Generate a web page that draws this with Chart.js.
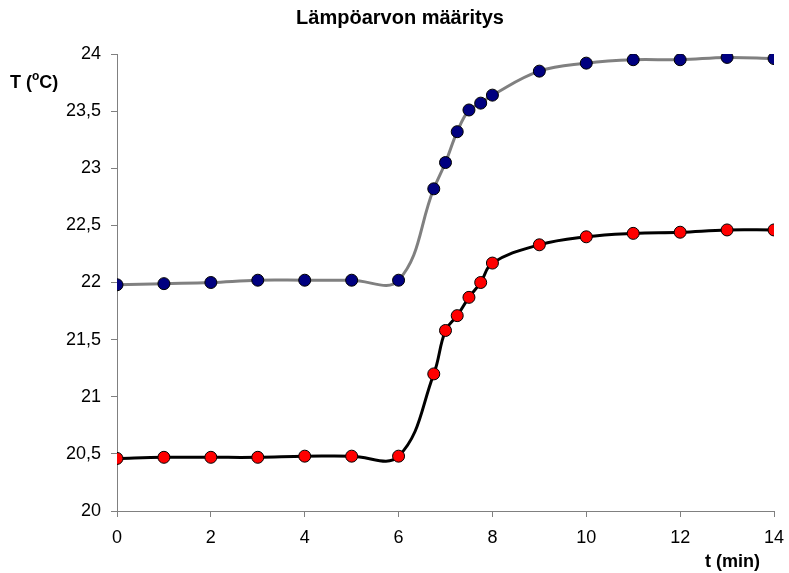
<!DOCTYPE html>
<html>
<head>
<meta charset="utf-8">
<script src="https://cdn.jsdelivr.net/npm/chart.js@4/dist/chart.umd.min.js"></script>
<style>
  html, body { margin: 0; padding: 0; background: #fff; }
  #wrap { width: 789px; height: 573px; }
</style>
</head>
<body>
<div id="wrap"><canvas id="chart" width="789" height="573"></canvas></div>
<script>
// aika (min)
var aika = [0, 1, 2, 3, 4, 5, 6, 6.75, 7, 7.25, 7.5, 7.75, 8, 9, 10, 11, 12, 13, 14];
// ylempi sarja (siniset pisteet)
var sarjaSininen = [21.98, 21.99, 22.00, 22.02, 22.02, 22.02, 22.02, 22.82, 23.05, 23.32, 23.51, 23.57, 23.64, 23.85, 23.92, 23.95, 23.95, 23.97, 23.96];
// alempi sarja (punaiset pisteet)
var sarjaPunainen = [20.46, 20.47, 20.47, 20.47, 20.48, 20.48, 20.48, 21.20, 21.58, 21.71, 21.87, 22.00, 22.17, 22.33, 22.40, 22.43, 22.44, 22.46, 22.46];
var yTikit = ['20', '20,5', '21', '21,5', '22', '22,5', '23', '23,5', '24'];
var xTikit = ['0', '2', '4', '6', '8', '10', '12', '14'];

function pisteet(arvot) {
  var out = [];
  for (var i = 0; i < aika.length; i++) {
    out.push({ x: aika[i], y: arvot[i] });
  }
  return out;
}

var fontti = "'Liberation Sans', Arial, sans-serif";

var tekstit = {
  id: 'tekstit',
  afterDraw: function (chart) {
    var ctx = chart.ctx;
    ctx.save();
    ctx.fillStyle = '#000';
    ctx.textBaseline = 'alphabetic';

    // otsikko
    ctx.font = 'bold 20px ' + fontti;
    ctx.textAlign = 'center';
    ctx.fillText('Lämpöarvon määritys', 400, 24);

    // y-akselin nimi  T (oC)
    ctx.textAlign = 'left';
    ctx.font = 'bold 18px ' + fontti;
    var x = 10, y = 88;
    ctx.fillText('T (', x, y);
    x += ctx.measureText('T (').width;
    ctx.font = 'bold 12px ' + fontti;
    ctx.fillText('o', x, y - 8);
    x += ctx.measureText('o').width;
    ctx.font = 'bold 18px ' + fontti;
    ctx.fillText('C)', x, y);

    // x-akselin nimi
    ctx.textAlign = 'right';
    ctx.fillText('t (min)', 760, 567);
    ctx.restore();
  }
};

var ctx = document.getElementById('chart').getContext('2d');
var chart = new Chart(ctx, {
  type: 'line',
  data: {
    datasets: [{
      data: pisteet(sarjaSininen),
      borderColor: '#808080',
      borderWidth: 3,
      backgroundColor: '#000080',
      pointBackgroundColor: '#000080',
      pointBorderColor: '#000',
      pointBorderWidth: 1,
      pointRadius: 6,
      tension: 0.4
    }, {
      data: pisteet(sarjaPunainen),
      borderColor: '#000',
      borderWidth: 3,
      backgroundColor: '#ff0000',
      pointBackgroundColor: '#ff0000',
      pointBorderColor: '#000',
      pointBorderWidth: 1,
      pointRadius: 6,
      tension: 0.4
    }]
  },
  options: {
    responsive: false,
    animation: false,
    layout: { padding: { top: 54, right: 15, left: 0, bottom: 0 } },
    plugins: {
      legend: { display: false },
      title: { display: false },
      tooltip: { enabled: false }
    },
    scales: {
      x: {
        type: 'linear',
        min: 0,
        max: 14,
        afterFit: function (scale) {
          scale.height = 62;
          scale.paddingLeft = 0;
          scale.paddingRight = 0;
        },
        afterBuildTicks: function (scale) {
          scale.ticks = xTikit.map(function (t) { return { value: parseFloat(t) }; });
        },
        ticks: {
          color: '#000',
          font: { family: fontti, size: 18 },
          padding: 10,
          maxRotation: 0,
          callback: function (v, i) { return xTikit[i]; }
        },
        grid: { drawOnChartArea: false, color: '#808080', tickLength: 6 },
        border: { color: '#808080', width: 1 }
      },
      y: {
        min: 20,
        max: 24,
        afterFit: function (scale) {
          scale.width = 117;
          scale.paddingTop = 0;
          scale.paddingBottom = 0;
        },
        afterBuildTicks: function (scale) {
          scale.ticks = yTikit.map(function (t) { return { value: parseFloat(t.replace(',', '.')) }; });
        },
        ticks: {
          color: '#000',
          font: { family: fontti, size: 18 },
          padding: 10,
          callback: function (v, i) { return yTikit[i]; }
        },
        grid: { drawOnChartArea: false, color: '#808080', tickLength: 6 },
        border: { color: '#808080', width: 1 }
      }
    }
  },
  plugins: [tekstit]
});
</script>
</body>
</html>
